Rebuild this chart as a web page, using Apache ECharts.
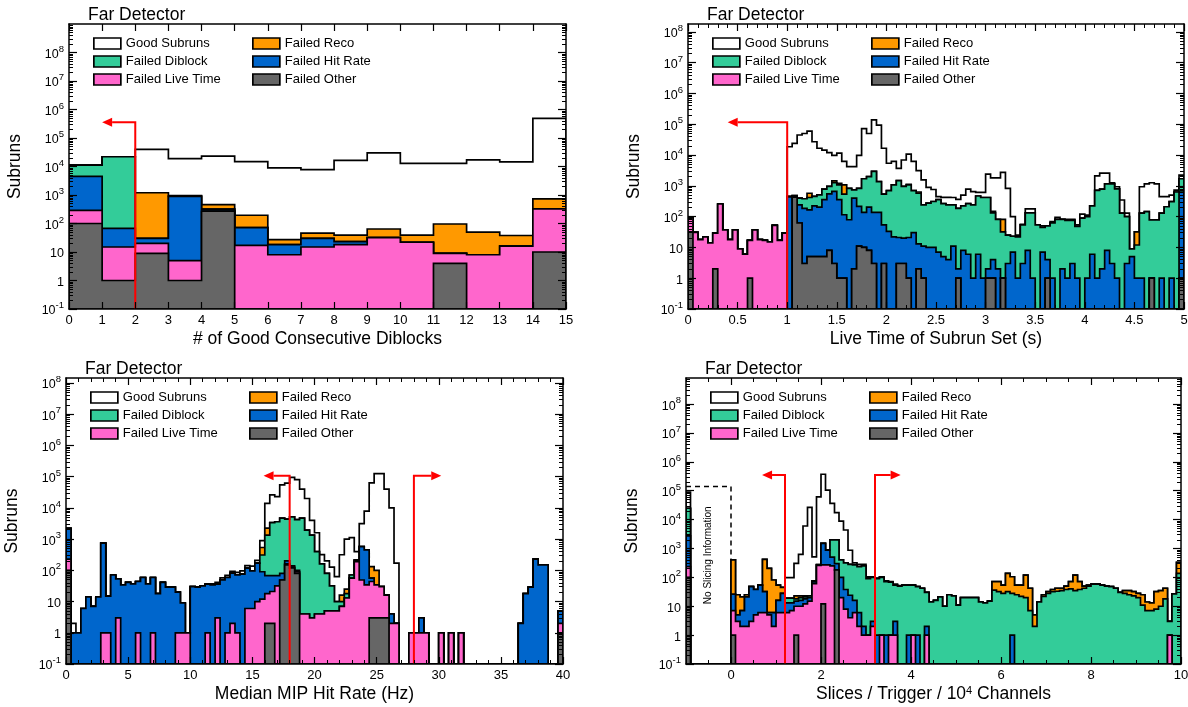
<!DOCTYPE html>
<html>
<head>
<meta charset="utf-8">
<script src="https://cdn.jsdelivr.net/npm/echarts@6/dist/echarts.min.js"></script>
<style>
  html, body { margin: 0; padding: 0; background: #ffffff; }
  #chart { width: 1188px; height: 707px; }
</style>
</head>
<body>
<div id="chart"></div>
<script>
// ---------------------------------------------------------------------------
// Subrun counts per bin for each failure category (stacked bottom -> top:
// other, live time, hit rate, diblock, reco, good).
// ---------------------------------------------------------------------------

// Panel 1: # of good consecutive diblocks, 15 bins of width 1 starting at 0
const p1Other   = [100, 1, 9, 1, 270, 0, 0, 0, 0, 0, 0, 4, 0, 0, 10];
const p1Live    = [190, 14, 11, 4, 0, 17, 8, 15, 18, 32, 22, 5, 8, 16, 315];
const p1Hit     = [4200, 52, 10, 895, 50, 55, 10, 15, 5, 0, 0, 0, 0, 0, 0];
const p1Diblock = [6700, 21900, 0, 0, 0, 0, 0, 0, 0, 0, 0, 0, 0, 0, 0];
const p1Reco    = [0, 0, 1170, 50, 140, 123, 9, 16, 16, 32, 17, 87, 42, 22, 405];
const p1Good    = [0, 0, 38800, 18000, 22500, 14600, 8970, 7750, 16460, 29940, 12760, 12700, 16950, 14460, 489000];

// Panel 2: live time of subrun set (s), 100 bins of width 0.05 starting at 0
const p2Other = [
  32,0,0,0,0,2,0,0,0,0,  0,0,1,0,0,0,0,0,0,0,
  0,430,62,3,5,5,5,5,8,3,  1,1,0,2,11,10,8,3,0,3,
  0,0,3,3,1,0,2,1,0,0,  0,0,0,0,1,0,0,0,0,0,
  1,1,0,1,0,0,0,0,0,0,  0,0,1,0,0,0,0,0,0,0,
  0,0,0,0,0,0,0,0,0,0,  0,0,0,1,0,0,0,0,0,1];
const p2Live = [
  64,31,18,22,14,27,257,37,18,37,  9,6,16,37,18,17,15,52,17,29,
  0,0,0,0,0,0,0,0,0,0,  0,0,0,0,0,0,0,0,0,0,
  0,0,0,0,0,0,0,0,0,0,  0,0,0,0,0,0,0,0,0,0,
  0,0,0,0,0,0,0,0,0,0,  0,0,0,0,0,0,0,0,0,0,
  0,0,0,0,0,0,0,0,0,0,  0,0,0,0,0,0,0,0,0,0];
const p2Hit = [
  0,0,0,0,0,0,0,0,0,0,  0,0,0,0,0,0,0,0,0,0,
  440,40,178,183,160,219,199,350,542,657,  354,114,79,398,203,128,196,135,138,51,
  33,22,18,17,20,30,11,10,10,10,  7,5,4,11,1,8,6,1,6,1,
  1,3,2,0,3,7,1,3,8,1,  0,7,3,1,0,2,1,3,1,0,
  1,6,1,2,8,3,1,0,3,5,  1,1,0,0,0,1,0,1,0,629];
const p2Diblock = [
  0,0,0,0,0,0,0,0,0,0,  0,0,0,0,0,0,0,0,0,0,
  17,10,160,194,252,233,306,421,405,600,  715,425,751,340,616,1560,1800,2810,1240,486,
  667,1050,1460,935,1050,670,562,229,265,300,  348,258,236,229,184,216,257,239,462,416,
  415,128,79,31,22,16,21,51,124,131,  54,38,46,62,81,79,75,73,47,89,
  99,218,707,774,1142,1147,793,129,97,4,  11,128,145,77,78,128,209,308,631,1070];
const p2Reco = [
  0,0,0,0,0,0,0,0,0,0,  0,0,0,0,0,0,0,0,0,0,
  0,0,0,0,158,0,0,0,0,190,  130,530,0,0,0,0,0,0,0,0,
  0,0,0,0,40,0,55,0,0,0,  0,0,0,0,0,0,0,0,0,0,
  0,15,0,49,0,0,0,0,0,0,  0,0,0,0,0,0,0,0,0,0,
  0,0,0,0,0,0,0,0,0,0,  20,0,0,0,0,0,0,0,0,0];
const p2Good = [
  0,0,0,0,0,0,0,0,0,0,  0,0,0,0,0,0,0,0,0,0,
  18140,23500,44300,49600,59400,26500,16100,13700,11000,8350,
  10300,5130,3370,3460,8970,70300,48000,135000,91600,16060,
  4700,5130,2220,5950,9590,5500,2470,1310,615,450,
  92,157,180,177,177,276,513,406,149,200,
  1983,1673,1739,2669,805,77,3,2,46,46,
  0,5,0,6,14,0,5,5,6,31,
  12,0,1382,1794,1420,110,139,218,29,0,
  0,804,1005,1182,1072,318,238,191,93,540];

// Panel 3: median MIP hit rate (Hz), 100 bins of width 0.4 starting at 0
const p3Other = [
  100,0,0,0,0,0,0,0,0,0,  0,0,0,0,0,0,0,0,0,0,
  0,0,0,0,0,0,0,0,0,0,  0,0,0,0,0,0,0,0,0,0,
  2,2,0,49,150,120,80,0,0,0,  0,0,0,0,0,0,0,0,0,0,
  0,3,3,3,3,0,0,0,0,0,  0,0,0,0,0,0,0,0,0,0,
  0,0,0,0,0,0,0,0,0,0,  0,0,0,0,0,0,0,0,0,1];
const p3Live = [
  130,0,0,0,0,0,0,1,1,0,  3,0,0,0,1,0,0,1,0,0,
  0,0,1,1,1,0,0,0,1,0,  3,0,1,2,1,0,6,6,10,12,
  16,19,32,0,10,6,9,4,4,3,  4,4,5,5,5,7,13,56,190,49,
  34,41,31,27,13,2,2,0,0,1,  1,1,1,0,0,1,0,1,0,1,
  0,0,0,0,0,0,0,0,0,0,  0,0,0,0,0,0,0,0,0,1];
const p3Hit = [
  1970,1,1,6,14,7,14,739,14,71,  50,34,41,37,43,59,37,58,18,41,
  29,29,19,8,0,30,29,32,35,34,  33,49,58,79,70,76,111,90,160,78,
  50,47,36,31,40,14,11,0,0,0,  0,0,0,0,0,0,0,0,24,526,
  416,12,0,0,0,2,0,0,0,0,  0,2,0,0,0,0,0,0,0,0,
  0,0,0,0,0,0,0,0,0,0,  0,2,18,29,230,150,150,0,0,3];
const p3Diblock = [
  0,0,0,0,0,0,0,0,0,0,  0,0,0,0,0,0,0,0,0,0,
  0,0,0,0,0,0,0,0,0,0,  0,0,0,0,0,0,0,0,0,220,
  1282,3330,3530,4620,4200,5060,4100,4700,1950,1350,  396,156,75,27,5,3,5,15,0,0,
  0,0,0,0,0,0,0,0,0,0,  0,0,0,0,0,0,0,0,0,0,
  0,0,0,0,0,0,0,0,0,0,  0,0,0,0,0,0,0,0,0,0];
const p3Reco = [
  0,0,0,0,0,0,0,0,0,0,  0,0,0,0,0,0,0,0,0,0,
  0,0,0,0,0,0,0,0,0,0,  0,0,0,0,0,0,0,0,0,230,
  890,0,0,0,0,0,0,0,0,0,  0,0,0,0,0,6,7,0,0,0,
  0,76,66,0,0,0,0,0,0,0,  0,0,0,0,0,0,0,0,0,0,
  0,0,0,0,0,0,0,0,0,0,  0,0,0,0,0,0,0,0,0,0];
const p3Good = [
  0,1,0,0,0,0,0,0,0,0,  0,0,0,0,0,0,0,0,0,0,
  0,0,0,0,0,0,0,0,0,3,  5,8,10,12,15,20,25,40,40,350,
  11760,22600,19400,50300,57600,89800,75800,35300,18050,2650,
  1200,160,120,94,53,300,975,1050,186,2585,
  7450,62900,126000,126000,40000,10000,168,0,0,0,
  0,0,0,0,0,0,0,0,0,0,
  0,0,0,0,0,0,0,0,0,0,  0,0,0,0,0,0,0,0,0,0];

// Panel 4: slices / trigger / 10^4 channels, 110 bins of width 0.1 starting at -1
const p4Other = [
  100,0,0,0,0,0,0,0,0,0,  1,0,0,0,0,0,0,0,0,0,
  0,0,0,0,1,0,0,0,0,0,  12,0,0,180,0,0,0,0,0,0,
  0,0,0,0,0,0,0,0,0,0,  0,0,0,0,0,0,0,0,0,0,
  0,0,0,0,0,0,0,0,0,0,  0,0,0,0,0,0,0,0,0,0,
  0,0,0,0,0,0,0,0,0,0,  0,0,0,0,0,0,0,0,0,0,
  0,0,0,0,0,0,0,0,0,0];
const p4Live = [
  134,0,0,0,0,0,0,0,0,0,  6,3,2,2,3,5,6,6,5,2,
  6,6,6,7,9,10,12,15,60,260,  258,270,250,0,20,8,4,6,2,1,
  1,2,0,1,0,1,1,0,0,0,  1,0,0,1,0,0,0,0,0,0,
  0,0,0,0,0,0,0,0,0,0,  0,0,0,0,0,0,0,0,0,0,
  0,0,0,0,0,0,0,0,0,0,  0,0,0,0,0,0,0,0,0,0,
  0,0,0,0,0,0,0,1,0,0];
const p4Hit = [
  2500,0,0,0,0,0,0,0,0,0,  19,2,5,19,45,33,48,26,1,4,
  10,22,7,6,5,6,6,5,10,10,  1230,600,250,120,80,30,20,10,4,1,
  0,1,1,0,1,0,2,0,0,1,  0,1,0,1,0,0,0,0,0,0,
  0,0,0,0,0,0,0,0,0,0,  0,0,1,0,0,0,0,0,0,0,
  0,0,0,0,0,0,0,0,0,0,  0,0,0,0,0,0,0,0,0,0,
  0,0,0,0,0,0,0,0,0,0];
const p4Diblock = [
  22000,0,0,0,0,0,0,0,0,0,  0,0,0,0,0,0,0,0,0,0,
  0,0,6,6,3,4,3,3,5,5,  0,30,1500,1700,300,280,256,254,228,248,
  90,97,89,99,70,67,51,50,54,53,  53,47,42,28,14,16,21,10,25,23,
  11,20,20,20,20,14,13,15,36,32,  28,32,27,25,22,20,7,2,14,22,
  28,32,33,35,38,40,35,38,42,50,  58,58,54,50,48,42,30,28,25,23,
  20,11,7,7,8,10,18,2,27,138];
const p4Reco = [
  0,0,0,0,0,0,0,0,0,0,  374,20,14,4,0,0,0,385,198,75,
  38,17,0,0,5,3,2,0,0,0,  0,0,0,0,0,0,0,0,0,0,
  5,0,0,0,0,0,0,0,0,0,  0,0,0,0,0,0,0,0,0,0,
  0,0,0,0,0,0,0,0,35,39,  26,106,77,29,32,100,35,3,0,3,
  4,6,9,7,12,31,85,33,8,4,  0,2,0,0,0,0,0,7,10,9,
  8,14,7,6,24,25,24,0,0,192];
const p4Good = [
  65000,0,0,0,0,0,0,0,0,0,  0,0,0,0,0,0,0,0,0,0,
  0,0,79,79,280,600,5980,26300,440,61400,  370000,104000,34500,15400,8500,4050,590,46,48,32,
  9,5,5,5,4,3,4,2,0,0,  0,0,0,0,0,0,0,0,0,0,
  0,0,0,0,0,0,0,0,0,0,  0,0,0,0,0,0,0,0,0,0,
  0,0,0,0,0,0,0,0,0,0,  0,0,0,0,0,0,0,0,0,0,
  0,0,0,0,0,0,0,0,0,0];

// Cut markers: [cut position, arrow height, arrow tip position]
const p1Cuts = [[2, 3.6e5, 1.0]];
const p2Cuts = [[1.0, 1.17e5, 0.4]];
const p3Cuts = [[18, 1.07e5, 15.9], [28, 1.07e5, 30.2]];
const p4Cuts = [[1.2, 3.5e5, 0.69], [3.2, 3.5e5, 3.77]];

// Region without slicing information: [x from, x to, top, bottom of right edge]
const p4NoSlice = [-1, 0, 1.4e5, 400];

// Axis tick labels
const p1XTicks = [0, 1, 2, 3, 4, 5, 6, 7, 8, 9, 10, 11, 12, 13, 14, 15];
const p2XTicks = [0, 0.5, 1, 1.5, 2, 2.5, 3, 3.5, 4, 4.5, 5];
const p3XTicks = [0, 5, 10, 15, 20, 25, 30, 35, 40];
const p4XTicks = [0, 2, 4, 6, 8, 10];
const yDecades = [0.1, 1, 10, 100, 1e3, 1e4, 1e5, 1e6, 1e7, 1e8];

// ---------------------------------------------------------------------------
const FONT = '"Liberation Sans", Arial, Helvetica, sans-serif';
const Y_MIN = 0.1;

const layerInfo = {
  good:    { name: 'Good Subruns',     color: '#ffffff' },
  reco:    { name: 'Failed Reco',      color: '#ff9900' },
  diblock: { name: 'Failed Diblock',   color: '#33cc99' },
  hit:     { name: 'Failed Hit Rate',  color: '#0066cc' },
  live:    { name: 'Failed Live Time', color: '#ff66cc' },
  other:   { name: 'Failed Other',     color: '#666666' }
};
const stackBottomUp = ['other', 'live', 'hit', 'diblock', 'reco', 'good'];

const panels = [
  { grid: { left: 69, top: 24, width: 497, height: 285 }, xMin: 0, xMax: 15, yMax: 1e9,
    binStart: 0, binWidth: 1, xTicks: p1XTicks, xMinorStep: null,
    xTitle: '# of Good Consecutive Diblocks',
    layers: { other: p1Other, live: p1Live, hit: p1Hit, diblock: p1Diblock, reco: p1Reco, good: p1Good },
    cuts: p1Cuts },
  { grid: { left: 688, top: 24, width: 496, height: 285 }, xMin: 0, xMax: 5, yMax: 1.8e8,
    binStart: 0, binWidth: 0.05, xTicks: p2XTicks, xMinorStep: 0.1,
    xTitle: 'Live Time of Subrun Set (s)',
    layers: { other: p2Other, live: p2Live, hit: p2Hit, diblock: p2Diblock, reco: p2Reco, good: p2Good },
    cuts: p2Cuts },
  { grid: { left: 66, top: 378, width: 497, height: 286 }, xMin: 0, xMax: 40, yMax: 1.45e8,
    binStart: 0, binWidth: 0.4, xTicks: p3XTicks, xMinorStep: 1,
    xTitle: 'Median MIP Hit Rate (Hz)',
    layers: { other: p3Other, live: p3Live, hit: p3Hit, diblock: p3Diblock, reco: p3Reco, good: p3Good },
    cuts: p3Cuts },
  { grid: { left: 686, top: 378, width: 495, height: 286 }, xMin: -1, xMax: 10, yMax: 8e8,
    binStart: -1, binWidth: 0.1, xTicks: p4XTicks, xMinorStep: 0.5,
    xTitle: 'Slices / Trigger / 10{s|4} Channels',
    layers: { other: p4Other, live: p4Live, hit: p4Hit, diblock: p4Diblock, reco: p4Reco, good: p4Good },
    cuts: p4Cuts, noSlice: p4NoSlice }
];

function stepValues(a, b, s) {
  const out = [];
  const n = Math.round((b - a) / s);
  for (let i = 0; i <= n; i++) out.push(+(a + i * s).toFixed(6));
  return out;
}
function logMinorValues(min, max) {
  const out = [];
  for (let k = -1; k <= 9; k++) {
    for (let m = 2; m <= 9; m++) {
      const v = +(m * Math.pow(10, k)).toPrecision(6);
      if (v > min && v < max) out.push(v);
    }
  }
  return out;
}
function powerLabel(v) {
  const lg = Math.log10(v);
  const k = Math.round(lg);
  if (Math.abs(lg - k) > 1e-6) return '';
  if (k === 0) return '{b|1}';
  if (k === 1) return '{b|10}';
  return '{b|10}{s|' + k + '}';
}

// Filled step outline of one cumulative layer, drawn as a single polygon
function histRenderer(color) {
  return function (params, api) {
    if (params.dataIndexInside !== 0) return null;
    const n = params.dataInsideLength;
    const pts = [api.coord([api.value(0, 0), Y_MIN])];
    for (let i = 0; i < n; i++) {
      const v = Math.max(api.value(2, i), Y_MIN);
      pts.push(api.coord([api.value(0, i), v]));
      pts.push(api.coord([api.value(1, i), v]));
    }
    pts.push(api.coord([api.value(1, n - 1), Y_MIN]));
    return {
      type: 'polygon',
      shape: { points: pts },
      style: { fill: color, stroke: '#000000', lineWidth: 1.7, lineJoin: 'miter' }
    };
  };
}

function cutRenderer(params, api) {
  const x = api.value(0), y = api.value(1), tip = api.value(2);
  const base = api.coord([x, Y_MIN]);
  const top = api.coord([x, y]);
  const end = api.coord([tip, y]);
  const dir = end[0] > top[0] ? 1 : -1;
  const L = 10, H = 4.5;
  const neck = [end[0] - dir * L, end[1]];
  return {
    type: 'group',
    children: [
      { type: 'polyline', shape: { points: [base, top, neck] },
        style: { stroke: '#ff0000', lineWidth: 2, fill: null } },
      { type: 'polygon', shape: { points: [[end[0], end[1]], [neck[0], end[1] - H], [neck[0], end[1] + H]] },
        style: { fill: '#ff0000' } }
    ]
  };
}

function noSliceRenderer(params, api) {
  const x0 = api.value(0), x1 = api.value(1), top = api.value(2), bottom = api.value(3);
  const a = api.coord([x0, top]);
  const b = api.coord([x1, top]);
  const c = api.coord([x1, bottom]);
  const floor = api.coord([x0, Y_MIN]);
  // caption sits a little above the middle of the box
  const cx = (a[0] + b[0]) / 2;
  const cy = (a[1] + floor[1]) / 2 - 20;
  return {
    type: 'group',
    children: [
      { type: 'polyline', shape: { points: [a, b, c] },
        style: { stroke: '#000000', lineWidth: 1.5, lineDash: [5, 4], fill: null } },
      { type: 'text', x: cx, y: cy, rotation: Math.PI / 2,
        style: { text: 'No Slicing Information', fontSize: 10, fontFamily: FONT, fill: '#000000',
                 align: 'center', verticalAlign: 'middle' } }
    ]
  };
}

const option = {
  animation: false,
  backgroundColor: '#ffffff',
  grid: [], xAxis: [], yAxis: [], series: [], legend: [], graphic: []
};

panels.forEach(function (p, pi) {
  option.grid.push(Object.assign({ containLabel: false, outerBoundsMode: 'none' }, p.grid));

  // ----- x axes: bottom major / bottom minor / top major / top minor -----
  const xMinor = p.xMinorStep
    ? stepValues(p.xMin, p.xMax, p.xMinorStep).filter(v => !p.xTicks.some(t => Math.abs(t - v) < 1e-9))
    : [];
  const xBase = { type: 'value', gridIndex: pi, min: p.xMin, max: p.xMax, z: 10,
                  splitLine: { show: false }, axisPointer: { show: false } };
  const frameLine = { show: true, onZero: false, lineStyle: { color: '#000000', width: 1.5 } };
  const noLine = { show: false, onZero: false };
  const majorTickX = { show: true, inside: true, length: 7, customValues: p.xTicks,
                       lineStyle: { color: '#000000', width: 1.2 } };
  const minorTickX = xMinor.length
    ? { show: true, inside: true, length: 4, customValues: xMinor, lineStyle: { color: '#000000', width: 1 } }
    : { show: false };
  option.xAxis.push(
    Object.assign({}, xBase, {
      position: 'bottom', axisLine: frameLine, axisTick: majorTickX,
      axisLabel: { show: true, customValues: p.xTicks, fontSize: 13, fontFamily: FONT, color: '#000000', margin: 5 },
      name: p.xTitle, nameLocation: 'middle', nameGap: 21,
      nameTextStyle: { fontSize: 17.5, fontFamily: FONT, color: '#000000',
                       rich: { s: { fontSize: 11, fontFamily: FONT, color: '#000000', verticalAlign: 'top', lineHeight: 10 } } }
    }),
    Object.assign({}, xBase, { position: 'bottom', axisLine: noLine, axisTick: minorTickX, axisLabel: { show: false } }),
    Object.assign({}, xBase, { position: 'top', axisLine: frameLine, axisTick: majorTickX, axisLabel: { show: false } }),
    Object.assign({}, xBase, { position: 'top', axisLine: noLine, axisTick: minorTickX, axisLabel: { show: false } })
  );

  // ----- y axes: left major / left minor / right major / right minor -----
  const yMajor = yDecades.filter(v => v <= p.yMax);
  const yMinor = logMinorValues(Y_MIN, p.yMax);
  const yBase = { type: 'log', logBase: 10, gridIndex: pi, min: Y_MIN, max: p.yMax, z: 10,
                  splitLine: { show: false }, axisPointer: { show: false } };
  const majorTickY = { show: true, inside: true, length: 8, customValues: yMajor,
                       lineStyle: { color: '#000000', width: 1.2 } };
  const minorTickY = { show: true, inside: true, length: 4, customValues: yMinor,
                       lineStyle: { color: '#000000', width: 1 } };
  option.yAxis.push(
    Object.assign({}, yBase, {
      position: 'left', axisLine: frameLine, axisTick: majorTickY,
      axisLabel: {
        show: true, customValues: yMajor, formatter: powerLabel, margin: 5,
        rich: {
          b: { fontSize: 12.5, fontFamily: FONT, color: '#000000', lineHeight: 17, verticalAlign: 'bottom' },
          s: { fontSize: 9.5, fontFamily: FONT, color: '#000000', lineHeight: 9, verticalAlign: 'top' }
        }
      },
      name: 'Subruns', nameLocation: 'middle', nameGap: 45, nameRotate: 90,
      nameTextStyle: { fontSize: 17.5, fontFamily: FONT, color: '#000000' }
    }),
    Object.assign({}, yBase, { position: 'left', axisLine: noLine, axisTick: minorTickY, axisLabel: { show: false } }),
    Object.assign({}, yBase, { position: 'right', axisLine: frameLine, axisTick: majorTickY, axisLabel: { show: false } }),
    Object.assign({}, yBase, { position: 'right', axisLine: noLine, axisTick: minorTickY, axisLabel: { show: false } })
  );

  // ----- stacked histogram layers (cumulative, drawn from the top layer down) -----
  const nBins = p.layers.good.length;
  const cum = {};
  let running = new Array(nBins).fill(0);
  stackBottomUp.forEach(function (key) {
    running = running.map((v, i) => v + p.layers[key][i]);
    cum[key] = running.slice();
  });
  stackBottomUp.slice().reverse().forEach(function (key) {
    const data = cum[key].map(function (v, i) {
      const x0 = +(p.binStart + i * p.binWidth).toFixed(6);
      const x1 = +(p.binStart + (i + 1) * p.binWidth).toFixed(6);
      return [x0, x1, v];
    });
    option.series.push({
      type: 'custom', name: layerInfo[key].name,
      xAxisIndex: pi * 4, yAxisIndex: pi * 4,
      coordinateSystem: 'cartesian2d', clip: true, silent: true,
      itemStyle: { color: layerInfo[key].color },
      encode: { x: [0, 1], y: 2 },
      renderItem: histRenderer(layerInfo[key].color),
      data: data
    });
  });

  // ----- cut arrows -----
  option.series.push({
    type: 'custom', name: 'cuts', xAxisIndex: pi * 4, yAxisIndex: pi * 4,
    coordinateSystem: 'cartesian2d', clip: false, silent: true, z: 5,
    encode: { x: [0, 2], y: 1 },
    renderItem: cutRenderer, data: p.cuts
  });

  if (p.noSlice) {
    option.series.push({
      type: 'custom', name: 'noSlice', xAxisIndex: pi * 4, yAxisIndex: pi * 4,
      coordinateSystem: 'cartesian2d', clip: false, silent: true, z: 5,
      encode: { x: [0, 1], y: 2 },
      renderItem: noSliceRenderer, data: [p.noSlice]
    });
  }

  // ----- legend: two columns -----
  const legendCommon = {
    orient: 'vertical', icon: 'rect', itemWidth: 27, itemHeight: 11, itemGap: 5,
    selectedMode: false, padding: 0,
    textStyle: { fontSize: 13, fontFamily: FONT, color: '#000000', lineHeight: 13 },
    itemStyle: { borderColor: '#000000', borderWidth: 1.7 }
  };
  option.legend.push(Object.assign({}, legendCommon, {
    left: p.grid.left + 24, top: p.grid.top + 13,
    data: ['Good Subruns', 'Failed Diblock', 'Failed Live Time']
  }));
  option.legend.push(Object.assign({}, legendCommon, {
    left: p.grid.left + 183, top: p.grid.top + 13,
    data: ['Failed Reco', 'Failed Hit Rate', 'Failed Other']
  }));

  // ----- panel title -----
  option.graphic.push({
    type: 'text', x: p.grid.left + 19, y: p.grid.top - 9, z: 20,
    style: { text: 'Far Detector', fontSize: 17.5, fontFamily: FONT, fill: '#000000', verticalAlign: 'middle' }
  });
});

const chart = echarts.init(document.getElementById('chart'), null, { renderer: 'canvas' });
chart.setOption(option);
</script>
</body>
</html>
